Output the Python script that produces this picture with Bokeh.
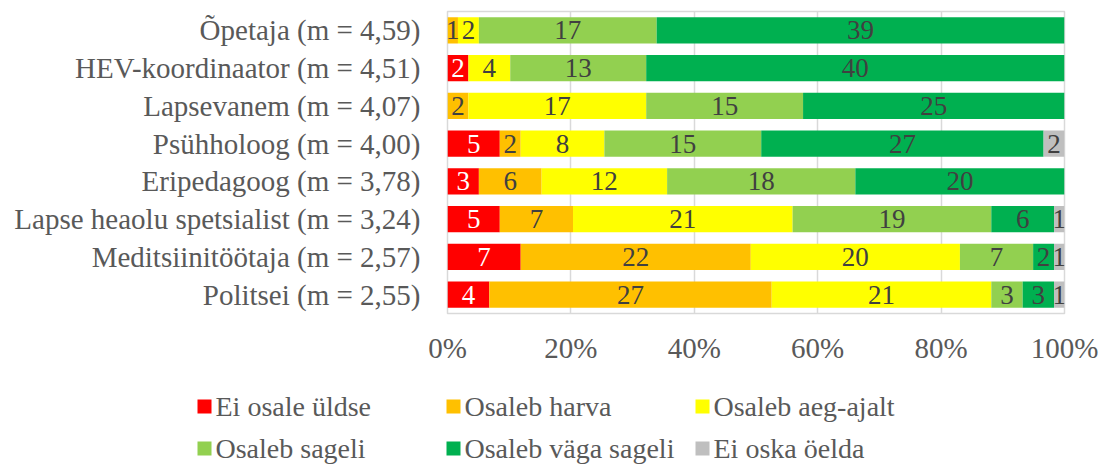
from bokeh.plotting import figure
from bokeh.models import (ColumnDataSource, FactorRange, Range1d,
                          NumeralTickFormatter, FixedTicker)
from bokeh.core.properties import value
from bokeh.embed import file_html
from bokeh.resources import INLINE

categories = ["Õpetaja (m = 4,59)", "HEV-koordinaator (m = 4,51)", "Lapsevanem (m = 4,07)",
              "Psühholoog (m = 4,00)", "Eripedagoog (m = 3,78)",
              "Lapse heaolu spetsialist (m = 3,24)", "Meditsiinitöötaja (m = 2,57)",
              "Politsei (m = 2,55)"]
series_names = ["Ei osale üldse", "Osaleb harva", "Osaleb aeg-ajalt",
                "Osaleb sageli", "Osaleb väga sageli", "Ei oska öelda"]
ei_osale = [0, 2, 0, 5, 3, 5, 7, 4]
harva = [1, 0, 2, 2, 6, 7, 22, 27]
aeg_ajalt = [2, 4, 17, 8, 12, 21, 20, 21]
sageli = [17, 13, 15, 15, 18, 19, 7, 3]
vaga_sageli = [39, 40, 25, 27, 20, 6, 2, 3]
ei_oska = [0, 0, 0, 2, 0, 1, 1, 1]
colors = ["#FF0000", "#FFC000", "#FFFF00", "#92D050", "#00B050", "#BFBFBF"]
label_colors = ["#FFFFFF", "#404040", "#404040", "#404040", "#404040", "#404040"]
tick_values = [0, 0.2, 0.4, 0.6, 0.8, 1.0]

series = [ei_osale, harva, aeg_ajalt, sageli, vaga_sageli, ei_oska]
keys = ["s%d" % i for i in range(len(series))]
totals = [sum(s[i] for s in series) for i in range(len(categories))]

data = {"cat": categories}
for k, s in zip(keys, series):
    data[k] = [v / t for v, t in zip(s, totals)]
source = ColumnDataSource(data)

FONT = "Liberation Serif"
p = figure(width=1108, height=380,
           y_range=FactorRange(factors=list(reversed(categories))),
           x_range=Range1d(0, 1),
           output_backend="svg", toolbar_location=None,
           min_border_left=447, min_border_right=44, min_border_top=11,
           min_border_bottom=67)

renderers = p.hbar_stack(keys, y="cat", height=0.69, color=colors, source=source,
                         line_color=None)

# data labels
lx, ly, lt, lc = [], [], [], []
for i, cat in enumerate(categories):
    cum = 0.0
    for j, s in enumerate(series):
        frac = s[i] / totals[i]
        if s[i] > 0:
            lx.append(cum + frac / 2)
            ly.append(cat)
            lt.append(str(s[i]))
            lc.append(label_colors[j])
        cum += frac
lsrc = ColumnDataSource(dict(x=lx, y=ly, t=lt, c=lc))
p.text(x="x", y="y", text="t", source=lsrc, text_color="c", text_align="center",
       text_baseline="middle", text_font=value(FONT), text_font_size="27px")

p.xaxis.ticker = FixedTicker(ticks=tick_values)
p.xaxis.formatter = NumeralTickFormatter(format="0%")
for ax in (p.xaxis, p.yaxis):
    ax.axis_line_color = None
    ax.major_tick_line_color = None
    ax.minor_tick_line_color = None
    ax.major_tick_out = 0
    ax.major_tick_in = 0
    ax.minor_tick_out = 0
    ax.major_label_text_font = FONT
    ax.major_label_text_color = "#595959"
p.xaxis.major_label_text_font_size = "29px"
p.xaxis.major_label_standoff = 18
p.yaxis.major_label_text_font_size = "29px"
p.yaxis.major_label_standoff = 27

p.xgrid.ticker = FixedTicker(ticks=tick_values)
p.xgrid.grid_line_color = "#D9D9D9"
p.xgrid.grid_line_width = 1.5
p.ygrid.grid_line_color = None
p.outline_line_color = "#D9D9D9"
p.outline_line_width = 1.5

# legend strip below the chart: 3 columns x 2 rows of swatch + label (pixel space)
pl = figure(width=1108, height=86, x_range=Range1d(0, 1108), y_range=Range1d(86, 0),
            x_axis_type=None, y_axis_type=None,
            output_backend="svg", toolbar_location=None,
            min_border_left=0, min_border_right=0, min_border_top=0, min_border_bottom=0)
pl.grid.grid_line_color = None
pl.outline_line_color = None
col_left, col_pitch, row_top, row_pitch = 197, 249, 26, 42
sw_x = [col_left + (i % 3) * col_pitch + 7 for i in range(len(series_names))]
sw_y = [row_top + (i // 3) * row_pitch for i in range(len(series_names))]
leg = ColumnDataSource(dict(x=sw_x, y=sw_y, tx=[x + 11 for x in sw_x],
                            name=series_names, color=colors))
pl.rect(x="x", y="y", width=14, height=14, width_units="screen", height_units="screen",
        fill_color="color", line_color=None, source=leg)
pl.text(x="tx", y="y", text="name", source=leg, text_color="#595959", text_align="left",
        text_baseline="middle", text_font=value(FONT), text_font_size="28px")

open("out.html", "w").write(file_html([p, pl], INLINE))
